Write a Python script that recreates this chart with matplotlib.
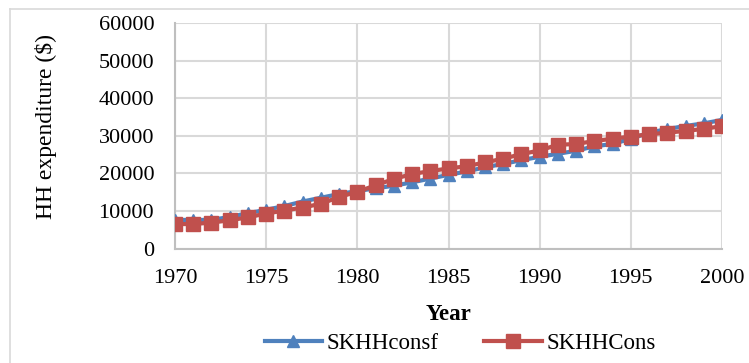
import numpy as np
import matplotlib
matplotlib.use("Agg")
import matplotlib.pyplot as plt
from matplotlib.lines import Line2D

plt.rcParams['font.family'] = ['Liberation Serif', 'DejaVu Serif']

# data
years = list(range(1970, 2001))
skhh_consf = [7600, 7600, 7600, 8400, 9400, 10300, 11300, 12500, 13500, 14500,
              15300, 16000, 16700, 17600, 18600, 19600, 20500, 21600, 22500, 23500,
              24400, 25200, 26000, 27200, 27800, 29200, 30800, 31800, 32600, 33300,
              34200]
skhh_cons = [6500, 6500, 6900, 7500, 8300, 9300, 10100, 10900, 11900, 13700,
             15100, 16800, 18500, 19800, 20600, 21300, 21900, 22900, 23900, 25100,
             26100, 27600, 27800, 28600, 29200, 29800, 30400, 30800, 31300, 31800,
             32600]
x_ticks = [1970, 1975, 1980, 1985, 1990, 1995, 2000]
y_ticks = [0, 10000, 20000, 30000, 40000, 50000, 60000]

blue = '#4F81BD'
red = '#C0504D'
grid_col = '#D9D9D9'

fig = plt.figure(figsize=(7.49, 3.63), dpi=100)
ax = fig.add_axes([175/749, 1-248.5/363, 547/749, 225.5/363])

ax.plot(years, skhh_consf, color=blue, lw=3, marker='^', ms=8,
        mfc=blue, mec=blue, label='SKHHconsf', zorder=3)
ax.plot(years, skhh_cons, color=red, lw=3, marker='s', ms=10,
        mfc=red, mec=red, label='SKHHCons', zorder=4)

ax.set_xlim(1970, 2000)
ax.set_ylim(0, 60000)
ax.set_xticks(x_ticks)
ax.set_yticks(y_ticks)
ax.grid(True, color=grid_col, lw=1.5)
ax.set_axisbelow(True)
for s in ['top', 'right']:
    ax.spines[s].set_visible(False)
for s in ['left', 'bottom']:
    ax.spines[s].set_color('#BFBFBF')
    ax.spines[s].set_linewidth(1.5)
ax.tick_params(length=0, labelsize=16, colors='black')
ax.tick_params(axis='x', pad=15)
ax.tick_params(axis='y', pad=15)

ax.set_ylabel('HH expenditure ($)', fontsize=17)
ax.yaxis.set_label_coords(-0.215, 0.54)
fig.text(449/749, 1-315/363, 'Year', fontsize=16.5, fontweight='bold',
         ha='center', va='center')

handles = [Line2D([], [], color=blue, lw=3, marker='^', ms=8.5),
           Line2D([], [], color=red, lw=3, marker='s', ms=10)]
fig.legend(handles, ['SKHHconsf', 'SKHHCons'], loc='center',
           bbox_to_anchor=(460/749, 1-343/363), ncol=2, frameon=False,
           fontsize=16.5, handlelength=2.5, handletextpad=0.2, columnspacing=2.0,
           borderpad=0)

# outer chart border
fig.add_artist(Line2D([10/749, 1], [1-9/363, 1-9/363], color='#D9D9D9', lw=1.2,
                      transform=fig.transFigure))
fig.add_artist(Line2D([10/749, 10/749], [0, 1-9/363], color='#D9D9D9', lw=1.2,
                      transform=fig.transFigure))

fig.savefig('out.png', dpi=100)
